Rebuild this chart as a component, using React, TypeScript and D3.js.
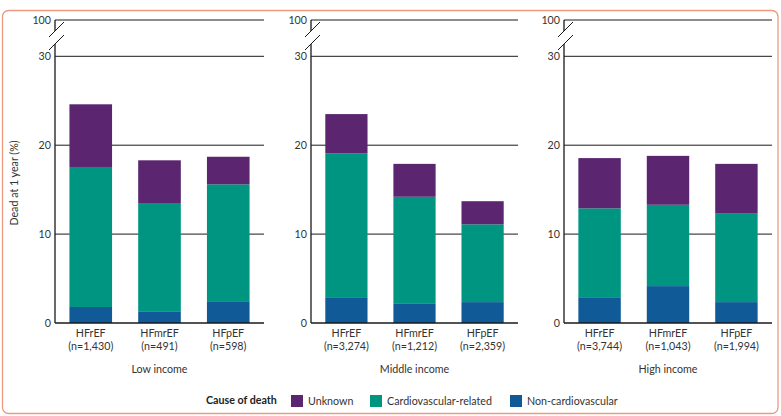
import React from "react";
import * as d3 from "d3";

const panels = ["Low income", "Middle income", "High income"];
const categories = ["HFrEF", "HFmrEF", "HFpEF"];
const sampleSizes = [
  ["(n=1,430)", "(n=491)", "(n=598)"],
  ["(n=3,274)", "(n=1,212)", "(n=2,359)"],
  ["(n=3,744)", "(n=1,043)", "(n=1,994)"],
];
const seriesNames = ["Non-cardiovascular", "Cardiovascular-related", "Unknown"];
const nonCardiovascular = [
  [1.8, 1.25, 2.45],
  [2.9, 2.15, 2.35],
  [2.9, 4.15, 2.35],
];
const cardiovascular = [
  [15.75, 12.25, 13.15],
  [16.2, 12.05, 8.75],
  [10.0, 9.15, 9.95],
];
const unknown = [
  [7.05, 4.8, 3.1],
  [4.4, 3.7, 2.6],
  [5.65, 5.5, 5.6],
];
const yTicks = [0, 10, 20, 30];
const legendItems = ["Unknown", "Cardiovascular-related", "Non-cardiovascular"];

const colors: Record<string, string> = {
  Unknown: "#5b2570",
  "Cardiovascular-related": "#009581",
  "Non-cardiovascular": "#105a98",
};

const FONT = "Lato, 'Open Sans', sans-serif";
const FS = 10.7;
const panelX: [number, number][] = [
  [55, 264],
  [311, 518],
  [564, 772],
];

export default function App() {
  const y = d3.scaleLinear().domain([0, 30]).range([323, 56.3]);
  const yTop = 20;
  const lineColor = "#1a1a1a";
  const textColor = "#333";

  return (
    <svg
      width={781}
      height={416}
      style={{ position: "absolute", left: 0, top: 0 }}
      fontFamily={FONT}
    >
      <rect x={0} y={0} width={781} height={416} fill="#fff" />
      <rect
        x={2.5}
        y={10.5}
        width={775.5}
        height={403}
        rx={6}
        fill="none"
        stroke="#ec9a80"
        strokeWidth={1.3}
      />
      {panels.map((p, pi) => {
        const [x0, x1] = panelX[pi];
        const x = d3
          .scaleBand<string>()
          .domain(categories)
          .range([x0, x1])
          .paddingInner(0.38)
          .paddingOuter(0.21);
        const stacks = categories.map((c, ci) => {
          const vals = [
            nonCardiovascular[pi][ci],
            cardiovascular[pi][ci],
            unknown[pi][ci],
          ];
          let acc = 0;
          return vals.map((v, si) => {
            const s = { name: seriesNames[si], y0: acc, y1: acc + v };
            acc += v;
            return s;
          });
        });
        return (
          <g key={p}>
            {[10, 20, 30].map((t) => (
              <line
                key={t}
                x1={x0}
                x2={x1}
                y1={y(t)}
                y2={y(t)}
                stroke={lineColor}
                strokeWidth={1}
              />
            ))}
            <line x1={x0} x2={x1} y1={yTop} y2={yTop} stroke={lineColor} strokeWidth={1} />
            {stacks.map((st, ci) =>
              st.map((s) => (
                <rect
                  key={ci + s.name}
                  x={x(categories[ci])}
                  width={x.bandwidth()}
                  y={y(s.y1)}
                  height={y(s.y0) - y(s.y1)}
                  fill={colors[s.name]}
                />
              ))
            )}
            <line x1={x0} x2={x1} y1={y(0)} y2={y(0)} stroke={lineColor} strokeWidth={1.3} />
            <line x1={x0} x2={x0} y1={yTop} y2={y(0)} stroke={lineColor} strokeWidth={1.3} />
            <polygon
              points={`${x0 - 6},${37} ${x0 + 9},${22} ${x0 + 9},${35} ${x0 - 6},${50}`}
              fill="#fff"
            />
            <line x1={x0 - 6} y1={37} x2={x0 + 9} y2={22} stroke={lineColor} strokeWidth={1} />
            <line x1={x0 - 6} y1={50} x2={x0 + 9} y2={35} stroke={lineColor} strokeWidth={1} />
            {yTicks.map((t) => (
              <text
                key={t}
                x={x0 - 4}
                y={y(t)}
                dy="0.35em"
                textAnchor="end"
                fontSize={FS}
                fill={textColor}
              >
                {t}
              </text>
            ))}
            <text x={x0 - 4} y={yTop} dy="0.35em" textAnchor="end" fontSize={FS} fill={textColor}>
              100
            </text>
            {categories.map((c, ci) => {
              const cx = (x(c) as number) + x.bandwidth() / 2;
              return (
                <g key={c}>
                  <text x={cx} y={337} textAnchor="middle" fontSize={FS} fill={textColor}>
                    {c}
                  </text>
                  <text x={cx} y={349.5} textAnchor="middle" fontSize={FS} fill={textColor}>
                    {sampleSizes[pi][ci]}
                  </text>
                </g>
              );
            })}
            <text
              x={(x0 + x1) / 2}
              y={373}
              textAnchor="middle"
              fontSize={FS}
              fill={textColor}
            >
              {p}
            </text>
          </g>
        );
      })}
      <text
        transform="translate(18,183) rotate(-90)"
        textAnchor="middle"
        fontSize={FS}
        fill={textColor}
      >
        Dead at 1 year (%)
      </text>
      <text x={206} y={404} fontSize={FS} fontWeight="bold" fill="#222">
        Cause of death
      </text>
      {legendItems.map((name, i) => {
        const sx = [291, 370, 510][i];
        return (
          <g key={name}>
            <rect x={sx} y={395} width={12} height={12} fill={colors[name]} />
            <text x={sx + 17} y={404.5} fontSize={FS} fill={textColor}>
              {name}
            </text>
          </g>
        );
      })}
    </svg>
  );
}
